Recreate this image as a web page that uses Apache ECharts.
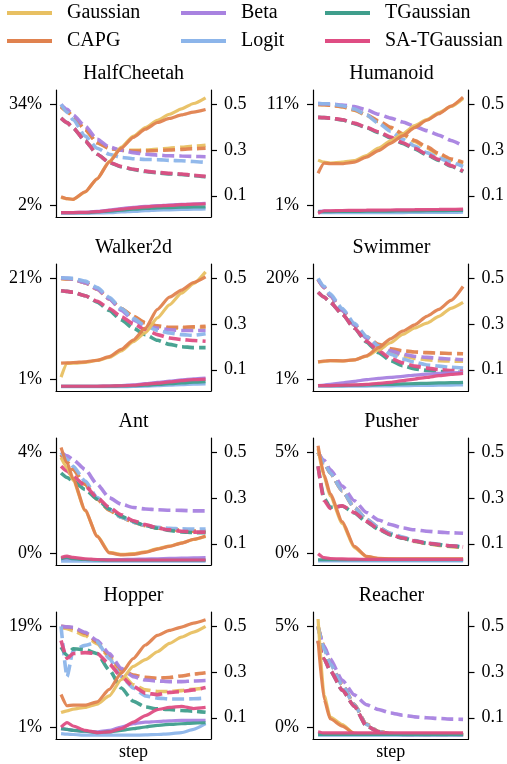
<!DOCTYPE html>
<html>
<head>
<meta charset="utf-8">
<script src="https://cdn.jsdelivr.net/npm/echarts@6/dist/echarts.min.js"></script>
<style>
  html, body { margin: 0; padding: 0; background: #fff; }
  #chart { width: 507px; height: 764px; }
</style>
</head>
<body>
<div id="chart"></div>
<script>
// sample positions along training (no tick labels on the x axis)
var STEPS = [0, 0.5, 1, 2, 3, 4, 5, 6, 7, 8, 9, 10, 11, 12];

var METHODS = ['Gaussian', 'CAPG', 'Beta', 'Logit', 'TGaussian', 'SA-TGaussian'];
var COLORS = ['#E8C062', '#E0824F', '#A882E0', '#8CB5EA', '#3F9E8C', '#DF4D83'];

var ENVS = ['HalfCheetah', 'Humanoid', 'Walker2d', 'Swimmer', 'Ant', 'Pusher', 'Hopper', 'Reacher'];
var LEFT_TICKS = [[2, 34], [1, 11], [1, 21], [1, 20], [0, 4], [0, 5], [1, 19], [0, 5]];
var RIGHT_TICKS = [0.1, 0.3, 0.5];

// solid lines -> left axis (%), dashed lines -> right axis; rows follow METHODS
var HALFCHEETAH_SOLID = [
  [4.6, 4.2, 4.0, 6.3, 10.5, 16.0, 20.5, 24.0, 26.7, 29.0, 30.9, 32.6, 34.3, 36.1],
  [4.8, 4.2, 4.0, 6.4, 10.5, 15.8, 20.2, 23.6, 26.2, 28.3, 29.6, 30.7, 31.6, 32.4],
  [-0.2, -0.2, -0.2, -0.1, 0.2, 0.6, 1.1, 1.5, 1.8, 2.0, 2.2, 2.4, 2.5, 2.7],
  [-0.4, -0.4, -0.4, -0.4, -0.3, -0.2, 0.0, 0.2, 0.4, 0.6, 0.7, 0.8, 0.9, 1.0],
  [-0.2, -0.2, -0.2, -0.2, 0.0, 0.3, 0.6, 0.9, 1.1, 1.3, 1.4, 1.5, 1.6, 1.6],
  [-0.2, -0.2, -0.2, -0.1, 0.1, 0.5, 0.9, 1.3, 1.6, 1.9, 2.1, 2.3, 2.5, 2.6]
];
var HALFCHEETAH_DASHED = [
  [0.49, 0.47, 0.447, 0.39, 0.332, 0.308, 0.299, 0.299, 0.300, 0.303, 0.308, 0.312, 0.317, 0.321],
  [0.49, 0.47, 0.447, 0.39, 0.332, 0.308, 0.299, 0.296, 0.296, 0.298, 0.300, 0.303, 0.306, 0.308],
  [0.50, 0.478, 0.454, 0.404, 0.347, 0.314, 0.299, 0.289, 0.282, 0.278, 0.275, 0.274, 0.272, 0.271],
  [0.50, 0.465, 0.433, 0.361, 0.308, 0.282, 0.268, 0.262, 0.259, 0.258, 0.255, 0.253, 0.250, 0.246],
  [0.44, 0.42, 0.397, 0.34, 0.282, 0.246, 0.227, 0.215, 0.206, 0.200, 0.196, 0.193, 0.188, 0.183],
  [0.44, 0.42, 0.397, 0.34, 0.282, 0.246, 0.228, 0.216, 0.208, 0.202, 0.198, 0.195, 0.190, 0.185]
];

var HUMANOID_SOLID = [
  [5.5, 5.3, 5.2, 5.3, 5.46, 5.95, 6.7, 7.4, 8.1, 8.9, 9.5, 10.2, 10.8, 11.6],
  [4.2, 5.2, 5.15, 5.14, 5.3, 5.79, 6.44, 7.16, 7.9, 8.72, 9.44, 10.09, 10.84, 11.72],
  [0.45, 0.46, 0.47, 0.48, 0.49, 0.5, 0.51, 0.52, 0.53, 0.54, 0.55, 0.56, 0.57, 0.58],
  [0.3, 0.3, 0.3, 0.3, 0.3, 0.31, 0.31, 0.32, 0.32, 0.33, 0.33, 0.34, 0.34, 0.35],
  [0.4, 0.41, 0.42, 0.43, 0.44, 0.45, 0.46, 0.47, 0.48, 0.49, 0.5, 0.51, 0.52, 0.53],
  [0.25, 0.5, 0.5, 0.52, 0.53, 0.55, 0.56, 0.57, 0.58, 0.6, 0.61, 0.63, 0.64, 0.66]
];
var HUMANOID_DASHED = [
  [0.5, 0.499, 0.497, 0.49, 0.475, 0.452, 0.425, 0.396, 0.367, 0.338, 0.309, 0.28, 0.256, 0.24],
  [0.5, 0.499, 0.497, 0.49, 0.476, 0.454, 0.428, 0.4, 0.371, 0.342, 0.314, 0.285, 0.261, 0.246],
  [0.504, 0.503, 0.502, 0.497, 0.49, 0.476, 0.457, 0.44, 0.423, 0.404, 0.385, 0.365, 0.342, 0.318],
  [0.504, 0.503, 0.502, 0.494, 0.48, 0.454, 0.418, 0.382, 0.347, 0.318, 0.289, 0.265, 0.246, 0.228],
  [0.443, 0.442, 0.44, 0.432, 0.416, 0.398, 0.377, 0.354, 0.329, 0.305, 0.279, 0.255, 0.229, 0.205],
  [0.443, 0.442, 0.44, 0.433, 0.418, 0.4, 0.38, 0.357, 0.332, 0.308, 0.282, 0.258, 0.232, 0.208]
];

var WALKER2D_SOLID = [
  [1.5, 4.2, 4.26, 4.4, 4.8, 5.4, 6.7, 8.5, 10.3, 13.2, 15.8, 18.1, 20.0, 22.3],
  [4.26, 4.3, 4.39, 4.52, 4.84, 5.56, 6.99, 8.82, 11.2, 14.9, 17.3, 18.7, 20.2, 21.3],
  [-0.3, -0.3, -0.3, -0.3, -0.3, -0.25, -0.15, 0.0, 0.2, 0.45, 0.7, 0.95, 1.15, 1.3],
  [-0.4, -0.4, -0.4, -0.4, -0.4, -0.4, -0.4, -0.35, -0.3, -0.2, -0.1, 0.0, 0.1, 0.15],
  [-0.3, -0.3, -0.3, -0.3, -0.3, -0.3, -0.25, -0.2, -0.1, 0.05, 0.2, 0.35, 0.5, 0.6],
  [-0.3, -0.3, -0.3, -0.3, -0.3, -0.25, -0.2, -0.1, 0.1, 0.3, 0.55, 0.8, 1.0, 1.1]
];
var WALKER2D_DASHED = [
  [0.5, 0.498, 0.496, 0.481, 0.453, 0.41, 0.368, 0.332, 0.303, 0.289, 0.282, 0.282, 0.285, 0.286],
  [0.5, 0.498, 0.496, 0.481, 0.453, 0.41, 0.368, 0.334, 0.306, 0.292, 0.286, 0.286, 0.288, 0.29],
  [0.503, 0.5, 0.496, 0.481, 0.453, 0.41, 0.36, 0.318, 0.292, 0.282, 0.275, 0.272, 0.272, 0.272],
  [0.503, 0.502, 0.5, 0.488, 0.46, 0.417, 0.368, 0.325, 0.292, 0.272, 0.261, 0.254, 0.251, 0.258],
  [0.446, 0.443, 0.439, 0.424, 0.396, 0.36, 0.318, 0.282, 0.254, 0.229, 0.211, 0.201, 0.197, 0.197],
  [0.446, 0.443, 0.439, 0.424, 0.4, 0.368, 0.332, 0.301, 0.275, 0.254, 0.239, 0.232, 0.228, 0.225]
];

var SWIMMER_SOLID = [
  [4.3, 4.45, 4.55, 4.5, 4.7, 5.4, 6.57, 7.93, 9.48, 10.7, 11.6, 12.9, 14.4, 15.5],
  [4.34, 4.5, 4.59, 4.53, 4.71, 5.46, 7.0, 8.67, 10.1, 11.3, 12.9, 14.2, 15.9, 18.5],
  [-0.11, 0.0, 0.13, 0.38, 0.69, 1.0, 1.25, 1.43, 1.62, 1.87, 2.05, 2.18, 2.3, 2.36],
  [-0.24, -0.24, -0.24, -0.24, -0.22, -0.2, -0.18, -0.15, -0.12, -0.1, -0.07, -0.04, -0.01, 0.01],
  [-0.11, -0.11, -0.11, -0.11, -0.05, 0.01, 0.07, 0.13, 0.2, 0.26, 0.32, 0.38, 0.44, 0.5],
  [-0.11, -0.11, -0.11, -0.05, 0.01, 0.13, 0.32, 0.5, 0.81, 1.12, 1.43, 1.74, 1.99, 2.18]
];
var SWIMMER_DASHED = [
  [0.496, 0.46, 0.424, 0.36, 0.296, 0.239, 0.204, 0.178, 0.161, 0.15, 0.144, 0.14, 0.138, 0.137],
  [0.496, 0.46, 0.424, 0.36, 0.296, 0.244, 0.211, 0.192, 0.183, 0.178, 0.175, 0.173, 0.171, 0.17],
  [0.496, 0.46, 0.424, 0.36, 0.296, 0.239, 0.204, 0.183, 0.168, 0.158, 0.154, 0.15, 0.147, 0.144],
  [0.5, 0.465, 0.432, 0.368, 0.303, 0.247, 0.204, 0.168, 0.147, 0.133, 0.121, 0.116, 0.111, 0.107],
  [0.439, 0.418, 0.396, 0.343, 0.282, 0.221, 0.175, 0.14, 0.118, 0.104, 0.097, 0.093, 0.09, 0.087],
  [0.439, 0.418, 0.396, 0.343, 0.282, 0.225, 0.183, 0.15, 0.13, 0.116, 0.107, 0.101, 0.097, 0.093]
];

var ANT_SOLID = [
  [3.8, 3.4, 2.9, 1.7, 0.7, 0.05, -0.03, 0.0, 0.07, 0.2, 0.3, 0.43, 0.56, 0.68],
  [4.2, 3.6, 2.96, 1.72, 0.68, 0.03, -0.05, -0.03, 0.05, 0.18, 0.29, 0.42, 0.57, 0.7],
  [-0.23, -0.23, -0.23, -0.23, -0.23, -0.23, -0.23, -0.22, -0.21, -0.2, -0.19, -0.18, -0.17, -0.16],
  [-0.3, -0.3, -0.3, -0.3, -0.3, -0.3, -0.3, -0.3, -0.3, -0.3, -0.3, -0.3, -0.3, -0.3],
  [-0.2, -0.15, -0.2, -0.23, -0.25, -0.26, -0.26, -0.26, -0.26, -0.26, -0.26, -0.26, -0.26, -0.26],
  [-0.15, -0.1, -0.15, -0.2, -0.23, -0.25, -0.25, -0.25, -0.25, -0.25, -0.25, -0.25, -0.25, -0.25]
];
var ANT_DASHED = [
  [0.49, 0.458, 0.425, 0.36, 0.295, 0.247, 0.216, 0.194, 0.179, 0.169, 0.162, 0.158, 0.155, 0.153],
  [0.49, 0.458, 0.425, 0.36, 0.295, 0.247, 0.216, 0.194, 0.18, 0.17, 0.163, 0.159, 0.156, 0.154],
  [0.5, 0.485, 0.468, 0.425, 0.36, 0.302, 0.273, 0.259, 0.252, 0.249, 0.247, 0.246, 0.244, 0.244],
  [0.5, 0.47, 0.439, 0.374, 0.302, 0.252, 0.216, 0.194, 0.18, 0.172, 0.168, 0.165, 0.164, 0.164],
  [0.41, 0.39, 0.374, 0.338, 0.295, 0.252, 0.22, 0.198, 0.179, 0.168, 0.158, 0.152, 0.149, 0.148],
  [0.439, 0.418, 0.396, 0.353, 0.302, 0.259, 0.227, 0.201, 0.184, 0.169, 0.161, 0.155, 0.151, 0.151]
];

var PUSHER_SOLID = [
  [5.2, 3.8, 2.85, 1.5, 0.3, -0.15, -0.24, -0.26, -0.27, -0.27, -0.27, -0.27, -0.27, -0.27],
  [5.33, 3.9, 2.96, 1.58, 0.36, -0.13, -0.23, -0.25, -0.26, -0.26, -0.26, -0.26, -0.26, -0.26],
  [-0.33, -0.33, -0.33, -0.33, -0.33, -0.33, -0.33, -0.33, -0.33, -0.33, -0.33, -0.33, -0.33, -0.33],
  [-0.36, -0.36, -0.36, -0.36, -0.36, -0.36, -0.36, -0.36, -0.36, -0.36, -0.36, -0.36, -0.36, -0.36],
  [-0.3, -0.3, -0.3, -0.3, -0.3, -0.3, -0.3, -0.3, -0.3, -0.3, -0.3, -0.3, -0.3, -0.3],
  [0.0, -0.2, -0.24, -0.26, -0.27, -0.28, -0.28, -0.28, -0.28, -0.28, -0.28, -0.28, -0.28, -0.28]
];
var PUSHER_DASHED = [
  [0.5, 0.455, 0.41, 0.331, 0.259, 0.206, 0.17, 0.143, 0.125, 0.11, 0.1, 0.093, 0.087, 0.084],
  [0.5, 0.455, 0.41, 0.331, 0.259, 0.207, 0.171, 0.145, 0.127, 0.112, 0.102, 0.095, 0.089, 0.086],
  [0.5, 0.465, 0.425, 0.353, 0.288, 0.237, 0.204, 0.184, 0.169, 0.161, 0.155, 0.151, 0.148, 0.146],
  [0.5, 0.455, 0.41, 0.331, 0.259, 0.208, 0.172, 0.146, 0.129, 0.114, 0.104, 0.097, 0.091, 0.088],
  [0.439, 0.3, 0.26, 0.265, 0.235, 0.196, 0.163, 0.139, 0.124, 0.111, 0.102, 0.096, 0.09, 0.085],
  [0.439, 0.29, 0.255, 0.266, 0.237, 0.198, 0.165, 0.14, 0.125, 0.112, 0.103, 0.097, 0.091, 0.086]
];

var HOPPER_SOLID = [
  [3.7, 4.0, 4.3, 4.6, 5.2, 6.65, 9.56, 11.9, 13.1, 14.5, 16.0, 17.1, 18.0, 19.0],
  [6.9, 4.9, 5.0, 5.0, 5.6, 7.8, 10.7, 13.3, 15.7, 17.4, 18.3, 18.9, 19.6, 20.2],
  [0.83, 0.7, 0.53, 0.36, 0.24, 0.53, 1.12, 1.7, 1.99, 2.1, 2.22, 2.28, 2.28, 2.28],
  [-0.05, -0.15, -0.22, -0.34, -0.34, -0.34, -0.34, -0.34, -0.28, -0.22, -0.1, 0.13, 0.71, 1.7],
  [0.83, 0.7, 0.53, 0.36, 0.13, 0.24, 0.53, 0.83, 1.12, 1.41, 1.58, 1.7, 1.82, 1.87],
  [1.1, 1.9, 1.3, 0.53, 0.13, 0.24, 0.83, 2.0, 3.15, 4.2, 4.6, 4.8, 4.4, 4.6]
];
var HOPPER_DASHED = [
  [0.496, 0.49, 0.481, 0.46, 0.424, 0.366, 0.294, 0.244, 0.222, 0.215, 0.215, 0.219, 0.225, 0.23],
  [0.5, 0.497, 0.493, 0.47, 0.431, 0.373, 0.309, 0.287, 0.277, 0.273, 0.276, 0.283, 0.291, 0.297],
  [0.5, 0.498, 0.496, 0.474, 0.438, 0.381, 0.316, 0.28, 0.265, 0.261, 0.258, 0.258, 0.261, 0.263],
  [0.5, 0.28, 0.395, 0.417, 0.431, 0.359, 0.28, 0.23, 0.196, 0.186, 0.182, 0.182, 0.183, 0.186],
  [0.409, 0.373, 0.402, 0.398, 0.381, 0.309, 0.23, 0.172, 0.147, 0.139, 0.136, 0.132, 0.129, 0.124],
  [0.438, 0.36, 0.381, 0.385, 0.381, 0.335, 0.28, 0.237, 0.208, 0.201, 0.211, 0.215, 0.222, 0.232]
];

var REACHER_SOLID = [
  [5.37, 1.6, 0.52, 0.15, -0.29, -0.32, -0.32, -0.32, -0.32, -0.32, -0.32, -0.32, -0.32, -0.32],
  [4.3, 1.4, 0.44, 0.08, -0.28, -0.32, -0.32, -0.32, -0.32, -0.32, -0.32, -0.32, -0.32, -0.32],
  [-0.35, -0.35, -0.35, -0.35, -0.35, -0.35, -0.35, -0.35, -0.35, -0.35, -0.35, -0.35, -0.35, -0.35],
  [-0.37, -0.37, -0.37, -0.37, -0.37, -0.37, -0.37, -0.37, -0.37, -0.37, -0.37, -0.37, -0.37, -0.37],
  [-0.33, -0.33, -0.33, -0.33, -0.33, -0.33, -0.33, -0.33, -0.33, -0.33, -0.33, -0.33, -0.33, -0.33],
  [-0.2, -0.26, -0.26, -0.26, -0.26, -0.26, -0.26, -0.26, -0.26, -0.26, -0.26, -0.26, -0.26, -0.26]
];
var REACHER_DASHED = [
  [0.5, 0.41, 0.34, 0.245, 0.158, 0.072, 0.04, 0.031, 0.027, 0.026, 0.026, 0.026, 0.026, 0.026],
  [0.5, 0.41, 0.34, 0.245, 0.158, 0.072, 0.04, 0.031, 0.027, 0.026, 0.026, 0.026, 0.026, 0.026],
  [0.493, 0.414, 0.357, 0.264, 0.2, 0.157, 0.136, 0.121, 0.111, 0.104, 0.1, 0.097, 0.094, 0.093],
  [0.5, 0.4, 0.336, 0.243, 0.157, 0.071, 0.039, 0.03, 0.026, 0.026, 0.026, 0.026, 0.026, 0.026],
  [0.436, 0.357, 0.307, 0.221, 0.15, 0.064, 0.039, 0.03, 0.026, 0.026, 0.026, 0.026, 0.026, 0.026],
  [0.436, 0.357, 0.307, 0.221, 0.15, 0.064, 0.039, 0.03, 0.026, 0.026, 0.026, 0.026, 0.026, 0.026]
];

var SOLID = [HALFCHEETAH_SOLID, HUMANOID_SOLID, WALKER2D_SOLID, SWIMMER_SOLID,
             ANT_SOLID, PUSHER_SOLID, HOPPER_SOLID, REACHER_SOLID];
var DASHED = [HALFCHEETAH_DASHED, HUMANOID_DASHED, WALKER2D_DASHED, SWIMMER_DASHED,
              ANT_DASHED, PUSHER_DASHED, HOPPER_DASHED, REACHER_DASHED];

var FONT = "'Liberation Serif', 'Times New Roman', serif";

function toPairs(vals) {
  return vals.map(function (v, j) { return [STEPS[j], v]; });
}

var chart = echarts.init(document.getElementById('chart'), null, { renderer: 'canvas' });

var grid = [], xAxis = [], yAxis = [], title = [], series = [];

ENVS.forEach(function (env, i) {
  var col = i % 2, row = Math.floor(i / 2);
  var left = col === 0 ? 56 : 313;
  var width = col === 0 ? 155 : 157;
  var top = 90 + row * 174;

  grid.push({ left: left, top: top, width: width, height: 127 });

  title.push({
    text: env, left: left + width / 2, top: top - 26, textAlign: 'center', padding: 0,
    textStyle: { fontFamily: FONT, fontSize: 20, fontWeight: 'normal', color: '#000' }
  });

  xAxis.push({
    type: 'value', gridIndex: i, min: -0.42, max: 12.45,
    name: row === 3 ? 'step' : '', nameLocation: 'middle', nameGap: 4,
    nameTextStyle: { fontFamily: FONT, fontSize: 18, color: '#000', verticalAlign: 'top' },
    axisLine: { onZero: false, lineStyle: { color: '#000', width: 1.2 } },
    axisTick: { show: false }, axisLabel: { show: false }, splitLine: { show: false }
  });

  var lo = LEFT_TICKS[i][0], hi = LEFT_TICKS[i][1], span = hi - lo;
  yAxis.push({
    type: 'value', gridIndex: i, position: 'left',
    min: lo - 0.112 * span, max: hi + 0.143 * span,
    axisLine: { show: true, onZero: false, lineStyle: { color: '#000', width: 1.2 } },
    axisTick: { show: true, length: 6, customValues: [lo, hi], lineStyle: { color: '#000', width: 1.2 } },
    axisLabel: {
      customValues: [lo, hi], margin: 14, fontFamily: FONT, fontSize: 18, color: '#000',
      formatter: function (v) { return Math.round(v) + '%'; }
    },
    splitLine: { show: false }
  });
  yAxis.push({
    type: 'value', gridIndex: i, position: 'right', min: 0.007, max: 0.563,
    axisLine: { show: true, onZero: false, lineStyle: { color: '#000', width: 1.2 } },
    axisTick: { show: true, length: 6, customValues: RIGHT_TICKS, lineStyle: { color: '#000', width: 1.2 } },
    axisLabel: {
      customValues: RIGHT_TICKS, margin: 13, fontFamily: FONT, fontSize: 18, color: '#000',
      formatter: function (v) { return v.toFixed(1); }
    },
    splitLine: { show: false }
  });

  // solid first so the legend takes its style, z keeps dashed underneath
  METHODS.forEach(function (m, k) {
    series.push({
      name: m, type: 'line', xAxisIndex: i, yAxisIndex: 2 * i,
      data: toPairs(SOLID[i][k]), symbol: 'none', smooth: 0.2, smoothMonotone: 'x',
      lineStyle: { color: COLORS[k], width: 3.2, opacity: 0.95 },
      itemStyle: { color: COLORS[k] }, z: 3, silent: true
    });
  });
  METHODS.forEach(function (m, k) {
    series.push({
      name: m, type: 'line', xAxisIndex: i, yAxisIndex: 2 * i + 1,
      data: toPairs(DASHED[i][k]), symbol: 'none', smooth: 0.2, smoothMonotone: 'x',
      lineStyle: { color: COLORS[k], width: 3.6, type: [12, 5], opacity: 0.95 },
      itemStyle: { color: COLORS[k] }, z: 2, silent: true
    });
  });
});

function legendCol(names, x) {
  return {
    data: names, left: x, top: 3, orient: 'vertical', padding: 0, itemGap: 8,
    itemWidth: 45, itemHeight: 4, icon: 'rect', selectedMode: false,
    textStyle: { fontFamily: FONT, fontSize: 20, color: '#000', padding: [0, 0, 0, 10] }
  };
}

chart.setOption({
  animation: false,
  backgroundColor: '#fff',
  title: title,
  legend: [
    legendCol(['Gaussian', 'CAPG'], 7),
    legendCol(['Beta', 'Logit'], 181),
    legendCol(['TGaussian', 'SA-TGaussian'], 325)
  ],
  grid: grid,
  xAxis: xAxis,
  yAxis: yAxis,
  series: series
});
</script>
</body>
</html>
